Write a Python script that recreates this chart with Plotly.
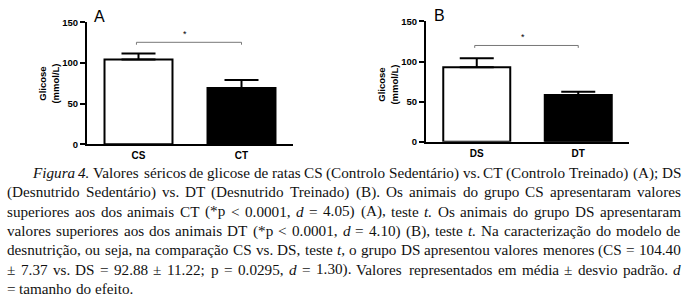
import plotly.graph_objects as go

# ---------------- data ----------------
groups_a = ["CS", "CT"]
means_a = [104.40, 69.4]
sd_a = [7.37, 9.8]
sig_a = 125.5

groups_b = ["DS", "DT"]
means_b = [92.88, 58.2]
sd_b = [11.22, 4.0]
sig_b = 120.0

y_ticks = [0, 50, 100, 150]
bar_colors = ["white", "black"]
panel_letters = ["A", "B"]
y_title = "Glicose<br>(mmol/L)"

caption_lines = [
    "_Figura 4._ Valores séricos de glicose de ratas CS (Controlo Sedentário) vs. CT (Controlo Treinado) (A); DS",
    "(Desnutrido Sedentário) vs. DT (Desnutrido Treinado) (B). Os animais do grupo CS apresentaram valores",
    "superiores aos dos animais CT (*p < 0.0001, _d_ = 4.05) (A), teste _t._ Os animais do grupo DS apresentaram",
    "valores superiores aos dos animais DT (*p < 0.0001, _d_ = 4.10) (B), teste _t._ Na caracterização do modelo de",
    "desnutrição, ou seja, na comparação CS vs. DS, teste _t_, o grupo DS apresentou valores menores (CS = 104.40",
    "± 7.37 vs. DS = 92.88 ± 11.22; p = 0.0295, _d_ = 1.30). Valores representados em média ± desvio padrão. _d_",
    "= tamanho do efeito.",
]

# ---------------- layout helpers ----------------
W, H = 699, 307


def px(x):
    return x / W


def py(y):
    return 1 - y / H


SANS = "Arial, Liberation Sans, sans-serif"
SERIF = "Times New Roman, Liberation Serif, serif"

# Times New Roman advance widths (em)
REG = {" ": .25, "(": .333, ")": .333, "*": .5, ",": .25, ".": .25, ";": .278, ":": .278,
       "<": .564, "=": .564, "±": .549, "-": .333,
       "A": .722, "B": .667, "C": .667, "D": .722, "E": .611, "F": .556, "G": .722, "H": .722,
       "I": .333, "J": .389, "K": .722, "L": .611, "M": .889, "N": .722, "O": .722, "P": .556,
       "Q": .722, "R": .667, "S": .556, "T": .611, "U": .722, "V": .722, "W": .944, "X": .722,
       "Y": .722, "Z": .611,
       "a": .444, "b": .5, "c": .444, "d": .5, "e": .444, "f": .333, "g": .5, "h": .5, "i": .278,
       "j": .278, "k": .5, "l": .278, "m": .778, "n": .5, "o": .5, "p": .5, "q": .5, "r": .333,
       "s": .389, "t": .278, "u": .5, "v": .5, "w": .722, "x": .5, "y": .5, "z": .444,
       "é": .444, "á": .444, "ã": .444, "ç": .444, "ó": .5, "í": .278}
for dch in "0123456789":
    REG[dch] = .5
ITA = dict(REG)
ITA.update({"F": .611, "r": .389, "a": .5, "d": .5, "t": .278, "i": .278, "g": .5, "u": .5})

fig = go.Figure()

panels = [
    dict(groups=groups_a, means=means_a, sd=sd_a, sig=sig_a, xd=(87, 293), yd=(143.4, 17),
         letter=panel_letters[0], lx=93, ly=10.5, tx=48.5, ax=""),
    dict(groups=groups_b, means=means_b, sd=sd_b, sig=sig_b, xd=(426, 629), yd=(140.7, 16),
         letter=panel_letters[1], lx=432.5, ly=10, tx=387.5, ax="2"),
]

for p in panels:
    xa = "x" + p["ax"]
    ya = "y" + p["ax"]
    fig.add_trace(go.Bar(
        x=p["groups"], y=p["means"], xaxis=xa, yaxis=ya, width=0.66,
        marker=dict(color=bar_colors, line=dict(color="black", width=2)),
        error_y=dict(type="data", symmetric=False, array=p["sd"], arrayminus=[0] * len(p["sd"]),
                     color="black", thickness=2, width=17),
        showlegend=False, hoverinfo="skip",
    ))
    axis_common = dict(showline=True, linecolor="black", linewidth=2, showgrid=False,
                       zeroline=False)
    fig.layout["xaxis" + p["ax"]] = dict(
        domain=[px(p["xd"][0]), px(p["xd"][1])], range=[-0.5, 1.5], anchor=ya,
        ticks="", tickfont=dict(family=SANS, size=10, color="black", weight="bold"),
        ticklabelstandoff=1, **axis_common)
    fig.layout["yaxis" + p["ax"]] = dict(
        domain=[py(p["yd"][0]), py(p["yd"][1])], range=[0, 150], anchor=xa,
        tickvals=y_ticks, ticks="outside", ticklen=5, tickwidth=1.5, tickcolor="black",
        tickfont=dict(family=SANS, size=9.5, color="black", weight="bold"), **axis_common)
    # significance bracket
    fig.add_shape(type="path", xref=xa, yref=ya,
                  path=f"M -0.02 {p['sig'] - 3} L -0.02 {p['sig']} L 1 {p['sig']} L 1 {p['sig'] - 3}",
                  line=dict(color="#777777", width=1))
    fig.add_annotation(x=0.5, y=p["sig"], xref=xa, yref=ya, text="*", showarrow=False,
                       xshift=-5, yanchor="bottom", yshift=1,
                       font=dict(family=SANS, size=9, color="black"))
    # panel letter
    fig.add_annotation(x=px(p["lx"]), y=py(p["ly"]), xref="paper", yref="paper", text=p["letter"],
                       showarrow=False, xanchor="left", yanchor="middle", borderpad=0,
                       font=dict(family=SANS, size=16, color="black"))
    # y title
    fig.add_annotation(x=px(p["tx"]), y=py(81), xref="paper", yref="paper", text=y_title,
                       textangle=-90, showarrow=False, xanchor="center", yanchor="middle",
                       font=dict(family=SANS, size=9.5, color="black", weight="bold"))

# ---------------- caption (justified) ----------------
FS = 15.2
LEFT, INDENT, RIGHT = 7, 32, 681
BASE0, LEAD = 178, 20


def esc(s):
    return s.replace("&", "&amp;").replace("<", "&lt;").replace(">", "&gt;")


for li, line in enumerate(caption_lines):
    tokens = line.split(" ")
    italic = False
    words = []
    for tok in tokens:
        html, width = "", 0.0
        for seg_i, seg in enumerate(tok.split("_")):
            if seg_i > 0:
                italic = not italic
            if not seg:
                continue
            table = ITA if italic else REG
            width += sum(table.get(c, .5) for c in seg) * FS
            html += f"<i>{esc(seg)}</i>" if italic else esc(seg)
        words.append((html, width))
    x0 = INDENT if li == 0 else LEFT
    total = sum(w for _, w in words)
    justify = li < len(caption_lines) - 1
    gap = (RIGHT - x0 - total) / (len(words) - 1) if justify else REG[" "] * FS
    cy = BASE0 + LEAD * li - 0.3375 * FS
    x = x0
    for wi, (html, w) in enumerate(words):
        last = justify and wi == len(words) - 1
        fig.add_annotation(x=px(RIGHT if last else x), y=py(cy), xref="paper", yref="paper",
                           text=html, showarrow=False, xanchor="right" if last else "left",
                           yanchor="middle", borderpad=0, borderwidth=0,
                           font=dict(family=SERIF, size=FS, color="#111111"))
        x += w + gap

fig.update_layout(width=W, height=H, margin=dict(l=0, r=0, t=0, b=0), autosize=False,
                  paper_bgcolor="white", plot_bgcolor="white", bargap=0.34)

fig.write_html("out.html", config={"displayModeBar": False},
               post_script="document.body.style.margin='0px';")
